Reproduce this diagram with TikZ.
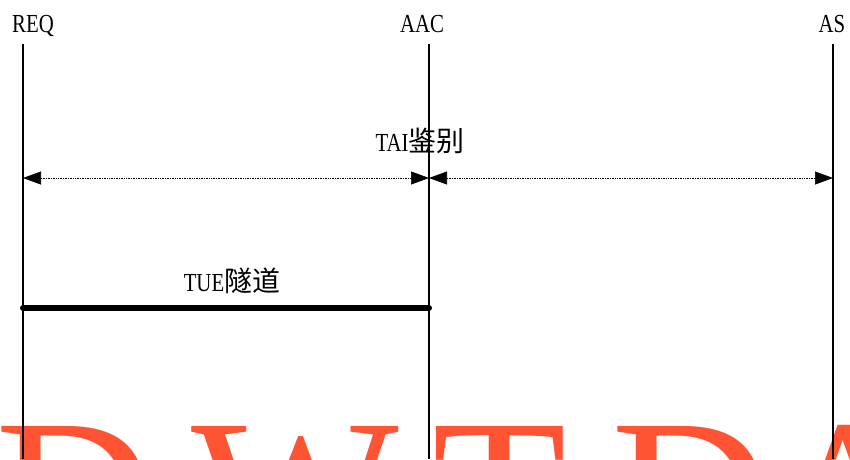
\documentclass[tikz,border=0pt]{standalone}
\usepackage{fontspec}
\usepackage{graphicx}
\setmainfont{Liberation Serif}
\newfontfamily\cjk{Noto Sans CJK SC}
\usetikzlibrary{arrows.meta}
\newcommand\nrw[1]{\scalebox{0.8}[1]{#1}}
\definecolor{wmcol}{RGB}{255,84,51}
\begin{document}
\begin{tikzpicture}[x=1pt,y=-1pt,
  lbl/.style={inner sep=0pt, anchor=base, font=\fontsize{26}{26}\selectfont},
  cjkt/.style={},
  life/.style={line width=1.4pt},
  msg/.style={densely dotted, line width=0.7pt, {Triangle[length=18pt,width=13pt]}-{Triangle[length=18pt,width=13pt]}},
  tunnel/.style={line width=6pt, line cap=round},
  wm/.style={inner sep=0pt, anchor=base west, text=wmcol, font=\fontsize{220}{220}\selectfont}]
\useasboundingbox (0,0) rectangle (850,459);
\begin{scope}
\clip (0,0) rectangle (850,459);
\node[wm] (w1) at (-5,570) {D};
\node[wm] (w2) at (191,570) {W};
\node[wm] (w3) at (432,570) {T};
\node[wm] (w4) at (611,570) {D};
\node[wm] (w5) at (770,570) {A};
\end{scope}
% lifelines
\coordinate (reqT) at (23,44);  \coordinate (reqB) at (23,459);
\coordinate (aacT) at (429,44); \coordinate (aacB) at (429,459);
\coordinate (asT)  at (833,44); \coordinate (asB)  at (833,459);
\draw[life] (reqT) -- (reqB);
\draw[life] (aacT) -- (aacB);
\draw[life] (asT) -- (asB);
% labels
\node[lbl] (req) at (33,32) {\nrw{REQ}};
\node[lbl] (aac) at (422,32) {\nrw{AAC}};
\node[lbl] (as)  at (832,32) {\nrw{AS}};
% TAI
\coordinate (m1) at (23,178);
\coordinate (m2) at (429,178);
\coordinate (m3) at (833,178);
\draw[msg] (m1) -- (m2);
\draw[msg] (m2) -- (m3);
\node[lbl] (tai) at (420,151) {\nrw{TAI}{\cjk\fontsize{28}{28}\selectfont 鉴别}};
% TUE tunnel
\coordinate (t1) at (23,308);
\coordinate (t2) at (429,308);
\draw[tunnel] (t1) -- (t2);
\node[lbl] (tue) at (232,291) {\nrw{TUE}{\cjk\fontsize{28}{28}\selectfont 隧道}};
\end{tikzpicture}
\end{document}
